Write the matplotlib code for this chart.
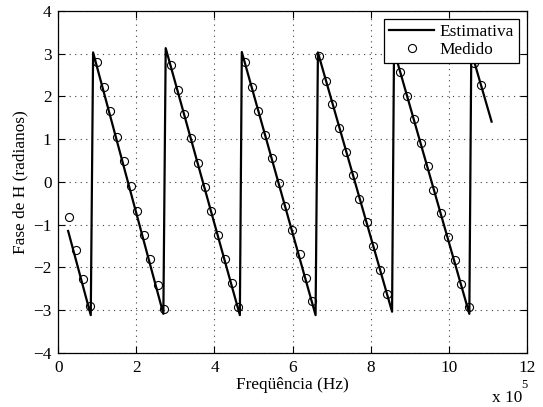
import matplotlib
matplotlib.use("Agg")
import matplotlib.pyplot as plt

# Estimated phase (x in units of 1e5 Hz)
line_x = [0.25, 0.83, 0.89, 2.69, 2.75, 4.65, 4.70, 6.59, 6.65, 8.55, 8.60, 10.53, 10.58, 11.10]
line_y = [-1.15, -3.12, 3.03, -3.09, 3.13, -3.12, 3.04, -3.12, 3.03, -3.04, 3.08, -3.09, 3.05, 1.41]

# Measured phase
meas_x = [0.27, 0.46, 0.64, 0.82, 0.98, 1.16, 1.33, 1.50, 1.68, 1.85,
          2.02, 2.19, 2.36, 2.55, 2.70, 2.88, 3.06, 3.23, 3.40, 3.57, 3.75,
          3.91, 4.09, 4.27, 4.44, 4.61, 4.78, 4.96, 5.12, 5.30, 5.48, 5.65, 5.80,
          5.99, 6.18, 6.34, 6.51, 6.68, 6.86, 7.02, 7.20, 7.38, 7.55, 7.71,
          7.90, 8.07, 8.23, 8.41, 8.58, 8.75, 8.92, 9.10, 9.28, 9.46, 9.61,
          9.81, 9.98, 10.15, 10.32, 10.51, 10.66, 10.83]
meas_y = [-0.83, -1.59, -2.27, -2.90, 2.81, 2.23, 1.66, 1.06, 0.48, -0.10,
          -0.69, -1.25, -1.81, -2.41, -2.98, 2.73, 2.16, 1.59, 1.02, 0.45, -0.11,
          -0.69, -1.24, -1.81, -2.37, -2.94, 2.80, 2.23, 1.67, 1.10, 0.56, -0.02, -0.57,
          -1.12, -1.69, -2.24, -2.80, 2.94, 2.37, 1.82, 1.26, 0.71, 0.15, -0.41,
          -0.95, -1.50, -2.06, -2.62, 3.10, 2.58, 2.02, 1.47, 0.92, 0.37, -0.19,
          -0.72, -1.28, -1.83, -2.39, -2.94, 2.78, 2.26]

xticks = [0, 2, 4, 6, 8, 10, 12]
yticks = [-4, -3, -2, -1, 0, 1, 2, 3, 4]

plt.rcParams['font.family'] = ['Liberation Serif', 'DejaVu Serif']
plt.rcParams['axes.unicode_minus'] = True
fs = 12.4

fig = plt.figure(figsize=(5.43, 4.07), dpi=100)
ax = fig.add_axes([0.1075, 0.1334, 0.970 - 0.1075, 0.973 - 0.1334])

ax.plot(line_x, line_y, color='black', lw=1.6, label='Estimativa', zorder=3)
ax.plot(meas_x, meas_y, linestyle='none', marker='o', ms=5.8, mfc='none',
        mec='black', mew=0.8, label='Medido', zorder=4)

ax.set_xlim(0, 12)
ax.set_ylim(-4, 4)
ax.set_xticks(xticks)
ax.set_yticks(yticks)
ax.set_xticklabels([str(t) for t in xticks])
ax.set_yticklabels([str(t).replace('-', '\u2212') for t in yticks])
ax.tick_params(direction='in', top=True, right=True, length=5, width=0.8,
               labelsize=fs, pad=5)
ax.grid(True, linestyle=(0, (1, 4)), color='0.25', lw=0.8)
for s in ax.spines.values():
    s.set_linewidth(0.9)

ax.set_xlabel('Freqüência (Hz)', fontsize=fs, labelpad=1)
ax.set_ylabel('Fase de H (radianos)', fontsize=fs, labelpad=3)

leg = ax.legend(loc='upper right', fontsize=fs, frameon=True, fancybox=False,
                framealpha=1, edgecolor='black', borderaxespad=0.45,
                handlelength=2.6, handletextpad=0.3, borderpad=0.3,
                labelspacing=0.12)
leg.get_frame().set_linewidth(0.9)
leg.set_zorder(10)

fig.text(491.5 / 543, 1 - 402 / 407, 'x 10', fontsize=fs, ha='left', va='baseline')
fig.text(521 / 543, 1 - 388 / 407, '5', fontsize=fs * 0.72, ha='left', va='baseline')

fig.savefig('out.png', dpi=100)
